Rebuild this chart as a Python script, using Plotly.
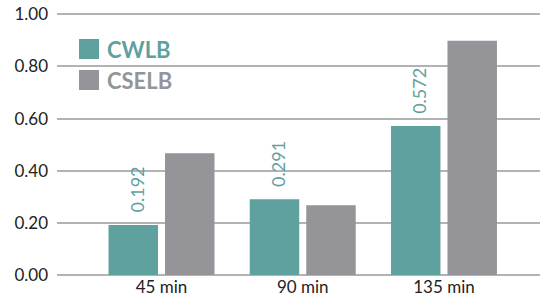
import plotly.graph_objects as go

categories = ["45 min", "90 min", "135 min"]
cwlb = [0.192, 0.291, 0.572]
cselb = [0.467, 0.268, 0.899]
cwlb_labels = ["0.192", "0.291", "0.572"]
y_ticks = [0, 0.2, 0.4, 0.6, 0.8, 1.0]
y_tick_text = ["0.00", "0.20", "0.40", "0.60", "0.80", "1.00"]

TEAL = "#5fa19f"
GRAY = "#959599"
FONT = "Lato"

fig = go.Figure()
fig.add_trace(go.Bar(x=categories, y=cwlb, name="CWLB", marker_color=TEAL,
                     marker_line_width=0, showlegend=False))
fig.add_trace(go.Bar(x=categories, y=cselb, name="CSELB", marker_color=GRAY,
                     marker_line_width=0, showlegend=False))

# value labels above CWLB bars
for i, (c, v, t) in enumerate(zip(categories, cwlb, cwlb_labels)):
    fig.add_annotation(x=i, y=v, text=t, showarrow=False, textangle=-90,
                       xref="x", yref="y", xshift=-25, yshift=10,
                       yanchor="bottom", xanchor="center",
                       font=dict(family=FONT, size=18, color=TEAL))

# full-window figure (body margin removed below)
W, H = 540, 298
ml, mr, mt, mb = 57, 0, 13, 23
pw, ph = W - ml - mr, H - mt - mb

def px_x(x):
    return (x - ml) / pw

def px_y(y):
    return 1 - (y - mt) / ph

legend_items = [("CWLB", TEAL, 49), ("CSELB", GRAY, 80)]
for name, col, yc in legend_items:
    fig.add_shape(type="rect", xref="paper", yref="paper",
                  x0=px_x(79), x1=px_x(99), y0=px_y(yc + 10), y1=px_y(yc - 10),
                  fillcolor=col, line_width=0)
    fig.add_annotation(x=px_x(105), y=px_y(yc), xref="paper", yref="paper",
                       text="<b>" + name + "</b>",
                       showarrow=False, xanchor="left", yanchor="middle",
                       font=dict(family=FONT, size=22, color=col))

fig.update_layout(
    width=W, height=H,
    margin=dict(l=ml, r=mr, t=mt, b=mb, autoexpand=False),
    paper_bgcolor="white", plot_bgcolor="white",
    barmode="group", bargap=0.2, bargroupgap=0.124,
    font=dict(family=FONT, size=17, color="#222222"),
)
fig.update_xaxes(type="category", range=[-0.74, 2.68], showgrid=False, automargin=False,
                 showline=False, ticks="", tickfont=dict(size=17, color="#222222"))
fig.update_yaxes(range=[0, 1.005], tickvals=y_ticks, ticktext=y_tick_text, automargin=False,
                 showgrid=True, gridcolor="#b3b3b3", gridwidth=1.5,
                 zeroline=True, zerolinecolor="#b3b3b3", zerolinewidth=1.5,
                 showline=False, ticks="", ticklabelstandoff=8,
                 ticklabeloverflow="allow",
                 tickfont=dict(size=17, color="#222222"))

fig.write_html("out.html", config={"displayModeBar": False},
               post_script="document.body.style.margin='0';document.body.style.overflow='hidden';")
